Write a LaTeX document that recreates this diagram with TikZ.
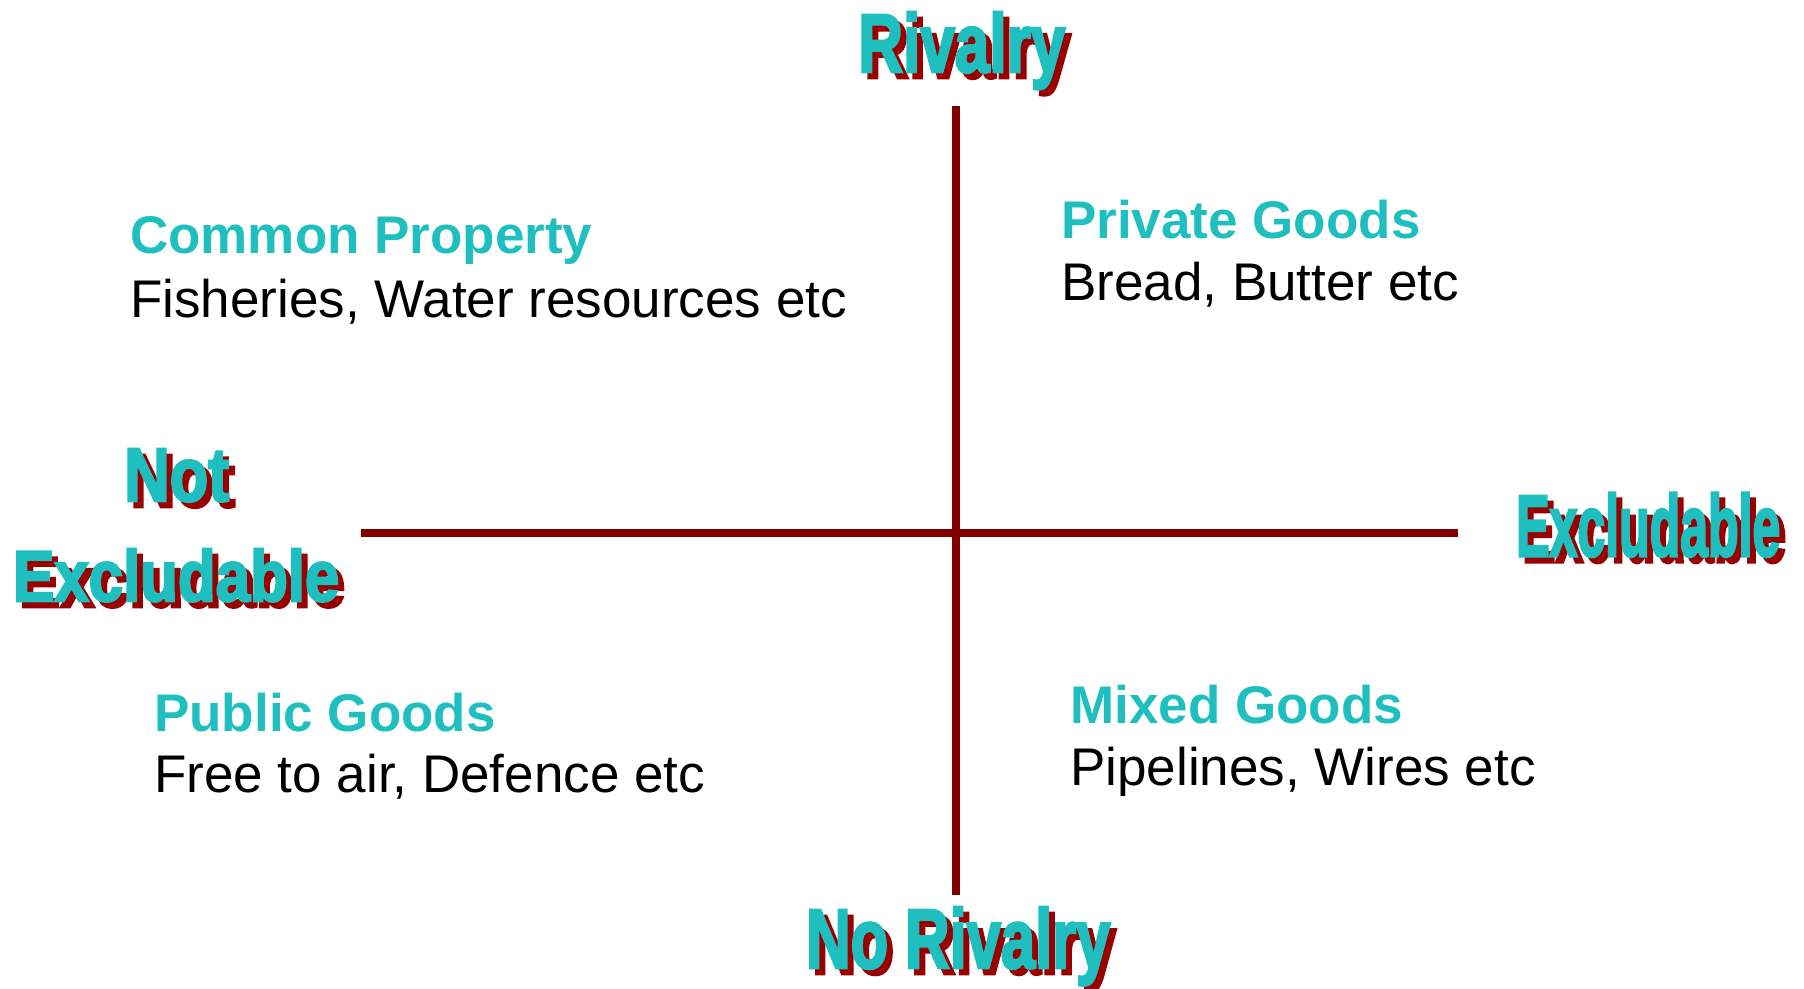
\documentclass[tikz,border=0pt]{standalone}
\usepackage{fontspec}
\setmainfont{Liberation Sans}
\newfontfamily\headfont[BoldFeatures={FakeBold=3.5}]{Liberation Sans}
\usepackage{graphicx}
\definecolor{tealtxt}{HTML}{1FBFBF}
\definecolor{shadowred}{HTML}{990000}
\definecolor{axisred}{HTML}{800000}
\newcommand\hd[3]{\resizebox{#1pt}{#2pt}{\headfont\bfseries #3}}
\begin{document}
\begin{tikzpicture}[x=1pt,y=-1pt,
  axis/.style={draw=axisred,line width=8pt},
  headshadow/.style={text=shadowred,inner sep=0pt,anchor=base west},
  headmain/.style={text=tealtxt,inner sep=0pt,anchor=base west},
  title/.style={text=tealtxt,inner sep=0pt,anchor=base west,font=\fontsize{53}{60}\selectfont\bfseries},
  body/.style={text=black,inner sep=0pt,anchor=base west,font=\fontsize{53}{60}\selectfont}]
\useasboundingbox (0,0) rectangle (1804,988);
% axes
\coordinate (vtop) at (956,106);
\coordinate (vbot) at (956,895);
\coordinate (hleft) at (361,533);
\coordinate (hright) at (1458,533);
\draw[axis] (vtop) -- (vbot);
\draw[axis] (hleft) -- (hright);
% headings with shadows
\node[headshadow] (rivS) at (864,78) {\hd{207}{60}{Rivalry}};
\node[headmain] (riv) at (858,72) {\hd{207}{60}{Rivalry}};
\node[headshadow] (norivS) at (812,974) {\hd{304}{61}{No Rivalry}};
\node[headmain] (noriv) at (806,968) {\hd{304}{61}{No Rivalry}};
\node[headshadow] (notS) at (130,507) {\hd{105}{52}{Not}};
\node[headmain] (not) at (124,501) {\hd{105}{52}{Not}};
\node[headshadow] (nexclS) at (19,607) {\hd{326}{52}{Excludable}};
\node[headmain] (nexcl) at (13,601) {\hd{326}{52}{Excludable}};
\node[headshadow] (exclS) at (1522,562) {\hd{264}{63}{Excludable}};
\node[headmain] (excl) at (1516,556) {\hd{264}{63}{Excludable}};
% quadrant texts
\node[title] (common) at (130,253) {Common Property};
\node[body] (commonex) at (130,317) {Fisheries, Water resources etc};
\node[title] (private) at (1061,238) {Private Goods};
\node[body] (privateex) at (1061,300) {Bread, Butter etc};
\node[title] (public) at (154,731) {Public Goods};
\node[body] (publicex) at (154,792) {Free to air, Defence etc};
\node[title] (mixed) at (1070,723) {Mixed Goods};
\node[body] (mixedex) at (1070,785) {Pipelines, Wires etc};
\end{tikzpicture}
\end{document}
